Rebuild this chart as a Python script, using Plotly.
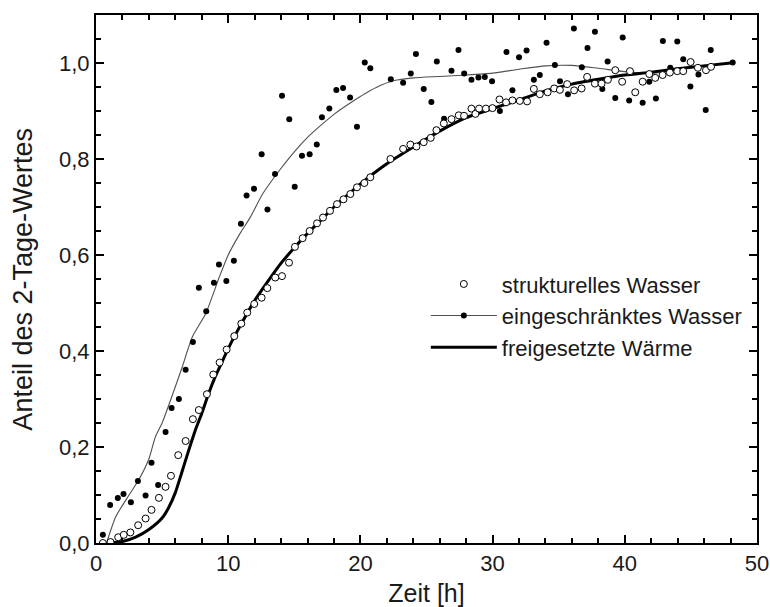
import plotly.graph_objects as go

# strukturelles Wasser (open circles)
struct_x = [0.52, 1.1, 1.68, 2.1, 2.6, 3.19, 3.75, 4.2, 4.76, 5.26, 5.67, 6.22, 6.78, 7.33, 7.78, 8.39, 8.87, 9.35, 9.88, 10.46,
            10.99, 11.44, 11.97, 12.53, 12.96, 13.56, 14.07, 14.6, 15.05, 15.63, 16.16, 16.72, 17.17, 17.7, 18.23, 18.72, 19.24, 19.74, 20.3, 20.75,
            22.27, 23.23, 23.78, 24.24, 24.79, 25.32, 25.75, 26.31, 26.89, 27.44, 27.84, 28.4, 28.7, 28.98, 29.49, 29.99,
            30.52, 31.02, 31.5, 32.06, 32.61, 33.12, 33.57, 34.16, 34.66, 35.09, 35.64, 36.17, 36.73, 37.15, 37.74, 38.24, 38.72, 39.28, 39.8,
            40.39, 40.79, 41.35, 41.85, 42.3, 42.86, 43.41, 43.97, 44.42, 44.98, 45.53, 46.14, 46.52]
struct_y = [0.0, 0.002, 0.012, 0.017, 0.022, 0.037, 0.051, 0.069, 0.094, 0.117, 0.14, 0.183, 0.2125, 0.258, 0.277, 0.31, 0.351, 0.376, 0.403, 0.431,
            0.457, 0.48, 0.498, 0.511, 0.531, 0.553, 0.556, 0.584, 0.617, 0.635, 0.65, 0.666, 0.678, 0.692, 0.706, 0.716, 0.727, 0.741, 0.75, 0.762,
            0.80, 0.821, 0.83, 0.826, 0.835, 0.844, 0.86, 0.874, 0.883, 0.891, 0.89, 0.905, 0.894, 0.905, 0.905, 0.906,
            0.924, 0.918, 0.922, 0.921, 0.92, 0.946, 0.935, 0.939, 0.947, 0.944, 0.956, 0.943, 0.947, 0.971, 0.957, 0.957, 0.965, 0.985, 0.961,
            0.983, 0.939, 0.961, 0.977, 0.969, 0.975, 0.98, 0.983, 0.983, 1.002, 0.99, 0.985, 0.992]

# eingeschränktes Wasser (filled dots)
bound_x = [0.52, 1.07, 1.65, 2.08, 2.64, 3.17, 3.75, 4.2, 4.7, 5.26, 5.72, 6.27, 6.78, 7.33, 7.78, 8.34, 8.92, 9.3, 9.86, 10.43,
           10.96, 11.39, 11.95, 12.53, 12.97, 13.54, 14.07, 14.62, 15.03, 15.58, 16.16, 16.7, 17.09, 17.65, 18.18, 18.69, 19.22, 19.74, 20.33, 20.75,
           22.3, 23.23, 23.81, 24.2, 24.79, 25.37, 25.78, 26.33, 26.89, 27.42, 27.85, 28.4, 28.93, 29.41, 29.96,
           30.55, 31.05, 31.5, 32.0, 32.57, 33.12, 33.57, 34.08, 34.71, 35.1, 35.7, 36.15, 36.75, 37.18, 37.74, 38.3, 38.7, 39.28, 39.84,
           40.33, 41.35, 41.85, 42.35, 42.88, 43.44, 43.97, 44.42, 44.96, 45.57, 46.12, 46.5, 48.16]
bound_y = [0.017, 0.079, 0.094, 0.102, 0.085, 0.129, 0.099, 0.167, 0.121, 0.231, 0.281, 0.30, 0.361, 0.419, 0.532, 0.483, 0.542, 0.58, 0.546, 0.588,
           0.665, 0.724, 0.738, 0.81, 0.695, 0.769, 0.932, 0.883, 0.742, 0.807, 0.81, 0.83, 0.887, 0.905, 0.944, 0.948, 0.928, 0.867, 1.001, 0.989,
           0.966, 0.959, 0.978, 1.019, 0.946, 0.919, 1.003, 0.884, 0.984, 1.027, 0.978, 0.965, 0.97, 0.971, 0.962,
           0.90, 1.023, 0.943, 1.012, 1.026, 0.965, 0.975, 1.042, 0.996, 0.962, 0.935, 1.072, 0.991, 1.031, 1.065, 0.946, 1.003, 0.927, 1.053,
           0.922, 0.917, 0.961, 0.926, 1.046, 0.99, 1.045, 1.008, 0.951, 0.976, 0.902, 1.027, 1.001]

# smoothed curve through eingeschränktes Wasser (thin line)
fit_x = [0.8, 1.5, 2.5, 3.2, 4.0, 4.5, 5.0, 5.8, 6.5, 7.3, 8.3, 9.3, 10.0, 10.9, 11.7, 12.6, 13.9, 15.0, 16.0, 17.0, 18.0, 19.2,
         20.4, 21.5, 22.5, 24.0, 26.0, 28.0, 30.0, 32.0, 34.0, 36.0, 38.0, 40.0, 42.0, 44.0, 46.0, 48.0]
fit_y = [0.0, 0.055, 0.10, 0.13, 0.175, 0.222, 0.25, 0.31, 0.365, 0.43, 0.478, 0.552, 0.60, 0.645, 0.68, 0.727, 0.777, 0.815, 0.845, 0.870, 0.893, 0.916,
         0.937, 0.953, 0.963, 0.969, 0.972, 0.975, 0.979, 0.987, 0.994, 0.995, 0.989, 0.982, 0.978, 0.986, 0.995, 1.0]

# freigesetzte Wärme (thick line)
heat_x = [1.0, 2.0, 3.0, 4.0, 5.0, 5.5, 6.0, 6.5, 7.0, 7.5, 8.0, 8.5, 9.0, 9.5, 10.0, 11.0, 12.0, 13.0, 14.0, 15.0, 16.0, 17.0, 18.0, 19.0,
          20.0, 22.0, 24.0, 26.0, 28.0, 30.0, 32.0, 34.0, 36.0, 38.0, 40.0, 42.0, 44.0, 46.0, 48.0]
heat_y = [0.0, 0.003, 0.012, 0.028, 0.052, 0.074, 0.105, 0.148, 0.192, 0.234, 0.27, 0.31, 0.345, 0.375, 0.405, 0.457, 0.505, 0.545, 0.583, 0.615, 0.645, 0.672, 0.70, 0.724,
          0.748, 0.79, 0.825, 0.858, 0.886, 0.905, 0.923, 0.942, 0.956, 0.966, 0.975, 0.981, 0.988, 0.994, 1.0]

names = ["strukturelles Wasser", "eingeschränktes Wasser", "freigesetzte Wärme"]
x_title = "Zeit [h]"
y_title = "Anteil des 2-Tage-Wertes"

FONT = "Liberation Sans, Arial, Helvetica, sans-serif"
INK = "#1a1a1a"

fig = go.Figure()

# thin fitted line (carries legend entry with a dot)
fig.add_trace(go.Scatter(
    x=[None] + fit_x, y=[None] + fit_y, mode="lines+markers", name=names[1],
    line=dict(color="#505050", width=1.1, shape="spline", smoothing=0.6),
    marker=dict(size=6, color=["black"] + ["rgba(0,0,0,0)"] * len(fit_x)),
    legendgroup="b", legendrank=2, hoverinfo="skip"))

# thick heat line
fig.add_trace(go.Scatter(
    x=heat_x, y=heat_y, mode="lines", name=names[2],
    line=dict(color="black", width=3, shape="spline", smoothing=0.6),
    legendgroup="c", legendrank=3))

# filled dots
fig.add_trace(go.Scatter(
    x=bound_x, y=bound_y, mode="markers", name=names[1],
    marker=dict(size=6, color="black"),
    legendgroup="b", showlegend=False))

# open circles
fig.add_trace(go.Scatter(
    x=struct_x, y=struct_y, mode="markers", name=names[0],
    marker=dict(size=7, color="white", line=dict(color="black", width=1)),
    legendgroup="a", legendrank=1))

axis_common = dict(
    showline=True, linecolor="black", linewidth=2, mirror="allticks",
    ticks="inside", ticklen=8, tickwidth=2, tickcolor="black",
    showgrid=False, zeroline=False,
    tickfont=dict(family=FONT, size=22, color=INK),
)

fig.update_xaxes(
    range=[0, 50], tick0=0, dtick=10,
    minor=dict(ticks="inside", ticklen=5, tickwidth=1.5, tickcolor="black", dtick=2, showgrid=False),
    title=dict(text=x_title, font=dict(family=FONT, size=25, color=INK), standoff=12),
    **axis_common)
fig.update_yaxes(
    range=[0, 1.1], tick0=0, dtick=0.2, tickformat=".1f",
    minor=dict(ticks="inside", ticklen=5, tickwidth=1.5, tickcolor="black", dtick=0.05, showgrid=False),
    **axis_common)

fig.add_annotation(
    text=y_title, textangle=-90, showarrow=False,
    xref="paper", yref="paper", x=-0.111, y=0.5, xanchor="center", yanchor="middle",
    font=dict(family=FONT, size=27, color=INK))

fig.update_layout(
    width=770, height=607,
    margin=dict(l=96, r=13, t=15, b=64, autoexpand=False),
    paper_bgcolor="white", plot_bgcolor="white",
    separators=",.",
    font=dict(family=FONT, size=22, color=INK),
    showlegend=True,
    legend=dict(
        x=0.499, y=0.53, xanchor="left", yanchor="top",
        bgcolor="rgba(0,0,0,0)", borderwidth=0,
        itemwidth=66, tracegroupgap=5,
        font=dict(family=FONT, size=22, color=INK),
        traceorder="normal",
    ),
)

fig.write_html("out.html")
